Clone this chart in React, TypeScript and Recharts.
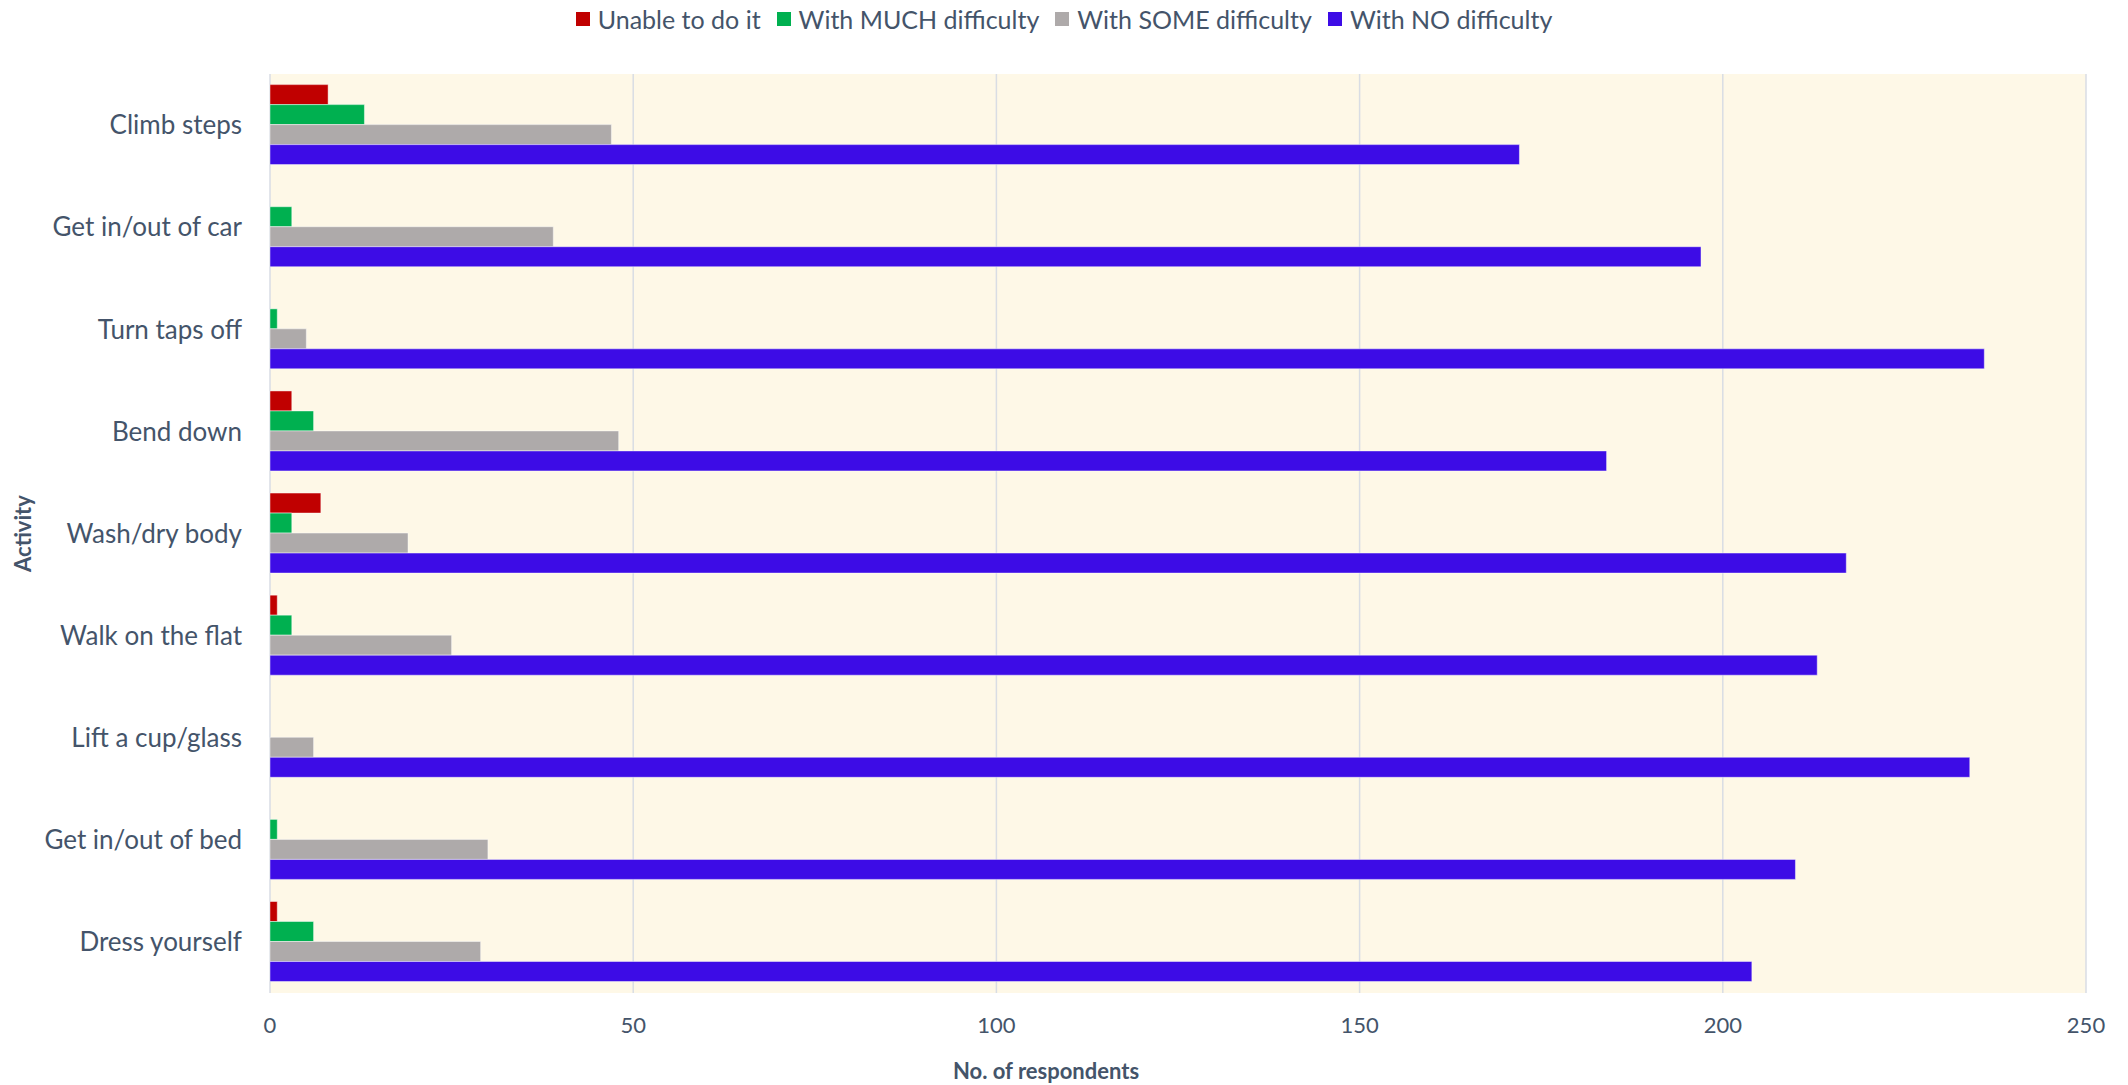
import { Bar, BarChart, CartesianGrid, Legend, XAxis, YAxis } from "recharts";

const activities = [
  "Climb steps",
  "Get in/out of car",
  "Turn taps off",
  "Bend down",
  "Wash/dry body",
  "Walk on the flat",
  "Lift a cup/glass",
  "Get in/out of bed",
  "Dress yourself",
];

const unableToDoIt = [8, 0, 0, 3, 7, 1, 0, 0, 1];
const muchDifficulty = [13, 3, 1, 6, 3, 3, 0, 1, 6];
const someDifficulty = [47, 39, 5, 48, 19, 25, 6, 30, 29];
const noDifficulty = [172, 197, 236, 184, 217, 213, 234, 210, 204];

const respondentTicks = [0, 50, 100, 150, 200, 250];

const SERIES = [
  { key: "unable", name: "Unable to do it", color: "#C00000" },
  { key: "much", name: "With MUCH difficulty", color: "#00B050" },
  { key: "some", name: "With SOME difficulty", color: "#AEAAAA" },
  { key: "none", name: "With NO difficulty", color: "#3D0CE6" },
] as const;

const rows = activities.map((activity, i) => ({
  activity,
  unable: unableToDoIt[i],
  much: muchDifficulty[i],
  some: someDifficulty[i],
  none: noDifficulty[i],
}));

const FONT = "Lato, 'Open Sans', sans-serif";
const TEXT = "#44546A";

// legend keeps series order (recharts would sort it by name otherwise)
function LegendRow() {
  return (
    <div style={{ display: "flex", justifyContent: "center", alignItems: "center", gap: 16, fontFamily: FONT, fontSize: 25, color: TEXT, lineHeight: "30px" }}>
      {SERIES.map(s => (
        <span key={s.key} style={{ display: "flex", alignItems: "center" }}>
          <span style={{ width: 14, height: 14, background: s.color, marginRight: 8, display: "inline-block" }} />
          {s.name}
        </span>
      ))}
    </div>
  );
}

export default function App() {
  return (
    <div style={{ width: 2128, height: 1085, background: "#ffffff" }}>
      <style>{"body{margin:0}"}</style>
      <BarChart
        width={2128}
        height={1085}
        data={rows}
        layout="vertical"
        margin={{ top: 74, right: 42, bottom: 0, left: 0 }}
        barCategoryGap="10.4%"
        barGap={0}
      >
        <CartesianGrid horizontal={false} stroke="#D9DDE4" strokeWidth={1.5} fill="#FEF8E7" />
        <XAxis
          type="number"
          domain={[0, 250]}
          ticks={respondentTicks}
          height={92}
          axisLine={false}
          tickLine={false}
          tickMargin={18}
          tick={{ fill: TEXT, fontSize: 22, fontFamily: FONT }}
          label={{ value: "No. of respondents", position: "insideBottom", offset: 6, dx: -132, fill: TEXT, fontSize: 22, fontWeight: 700, fontFamily: FONT }}
        />
        <YAxis
          type="category"
          dataKey="activity"
          width={270}
          axisLine={false}
          tickLine={false}
          tickMargin={22}
          interval={0}
          tick={{ fill: TEXT, fontSize: 26, fontFamily: FONT }}
          label={{ value: "Activity", position: "center", angle: -90, dx: -112, fill: TEXT, fontSize: 22, fontWeight: 700, fontFamily: FONT }}
        />
        <Legend
          verticalAlign="middle"
          align="center"
          layout="horizontal"
          wrapperStyle={{ top: 4, left: 0, width: 2128 }}
          content={() => <LegendRow />}
        />
        {SERIES.map(s => (
          <Bar
            key={s.key}
            dataKey={s.key}
            name={s.name}
            fill={s.color}
            stroke="#ffffff"
            strokeOpacity={0.45}
            strokeWidth={1}
            isAnimationActive={false}
          />
        ))}
      </BarChart>
    </div>
  );
}
